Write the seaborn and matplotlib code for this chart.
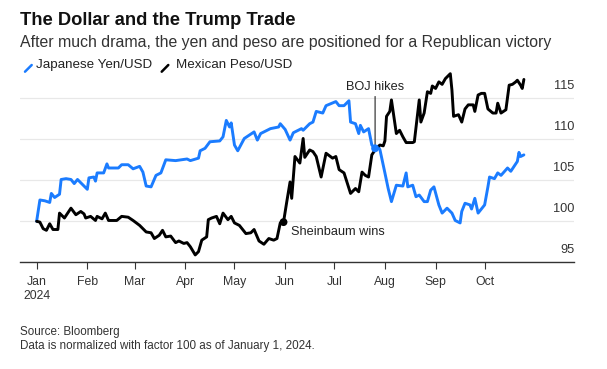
import matplotlib
matplotlib.use("Agg")
import matplotlib.pyplot as plt
import matplotlib.lines as mlines
import pandas as pd
import seaborn as sns

# ----------------------------
# Data (normalized, Jan 1 2024 = 100)
# ----------------------------
yen_dates = [
    "01-01", "01-03", "01-06", "01-09", "01-10", "01-12", "01-15", "01-16", "01-19", "01-22",
    "01-24", "01-26", "01-29", "02-01", "02-02", "02-05", "02-06", "02-07", "02-11", "02-13",
    "02-14", "02-20", "02-22", "02-26", "02-29", "03-04", "03-06", "03-08", "03-11", "03-14",
    "03-17", "03-20", "03-26", "04-02", "04-04", "04-09", "04-10", "04-13", "04-16", "04-22",
    "04-24", "04-26", "04-28", "04-29", "05-01", "05-03", "05-07", "05-13", "05-15", "05-17",
    "05-22", "05-23", "05-28", "05-29", "06-01", "06-04", "06-06", "06-11", "06-12", "06-16",
    "06-18", "06-20", "06-24", "06-26", "07-02", "07-04", "07-07", "07-10", "07-11", "07-14",
    "07-16", "07-17", "07-19", "07-22", "07-24", "07-26", "07-28", "07-29", "08-01", "08-03",
    "08-05", "08-08", "08-12", "08-14", "08-15", "08-18", "08-20", "08-22", "08-25", "08-27",
    "08-29", "08-31", "09-03", "09-05", "09-08", "09-11", "09-13", "09-16", "09-17", "09-19",
    "09-22", "09-23", "09-25", "09-27", "10-01", "10-03", "10-04", "10-07", "10-09", "10-11",
    "10-15", "10-17", "10-19", "10-21", "10-22", "10-23", "10-25",
]
yen_values = [
    100.0, 102.6, 102.5, 102.3, 103.4, 102.9, 103.3, 105.1, 105.2, 105.1,
    104.6, 105.1, 104.5, 103.9, 105.3, 105.4, 104.9, 105.9, 105.9, 107.0,
    106.5, 106.5, 106.9, 106.9, 106.4, 106.7, 106.0, 104.3, 104.2, 105.6,
    105.9, 107.5, 107.4, 107.6, 107.4, 107.7, 108.6, 108.9, 109.7, 109.8,
    110.3, 112.3, 111.5, 112.0, 109.3, 108.6, 110.1, 110.9, 109.9, 110.7,
    111.2, 111.3, 111.5, 111.9, 111.2, 109.9, 110.8, 111.3, 111.1, 111.9,
    112.1, 113.4, 113.2, 114.1, 114.6, 114.1, 114.1, 114.7, 112.1, 111.9,
    110.7, 111.7, 110.9, 111.3, 109.3, 108.9, 109.1, 108.7, 105.9, 104.0,
    102.4, 104.4, 104.3, 105.9, 104.2, 104.4, 103.0, 103.2, 102.4, 102.4,
    103.8, 104.2, 102.0, 101.0, 101.6, 101.0, 100.1, 99.8, 101.2, 102.2,
    102.0, 101.5, 102.8, 101.0, 102.0, 104.2, 105.4, 105.2, 105.9, 105.6,
    106.5, 106.1, 106.7, 107.3, 108.4, 107.9, 108.1,
]

mxn_dates = [
    "01-01", "01-03", "01-05", "01-07", "01-09", "01-11", "01-14", "01-15", "01-18", "01-22",
    "01-25", "01-28", "01-30", "01-31", "02-03", "02-06", "02-07", "02-10", "02-12", "02-14",
    "02-19", "02-22", "02-26", "02-29", "03-04", "03-08", "03-11", "03-13", "03-16", "03-18",
    "03-20", "03-23", "03-26", "03-28", "03-31", "04-02", "04-04", "04-07", "04-09", "04-11",
    "04-14", "04-15", "04-17", "04-20", "04-22", "04-24", "04-27", "04-29", "05-01", "05-04",
    "05-08", "05-11", "05-13", "05-16", "05-19", "05-22", "05-25", "05-27", "05-29", "05-31",
    "06-02", "06-04", "06-05", "06-07", "06-10", "06-12", "06-13", "06-16", "06-18", "06-20",
    "06-23", "06-26", "06-30", "07-02", "07-04", "07-07", "07-11", "07-14", "07-16", "07-18",
    "07-20", "07-22", "07-24", "07-27", "07-29", "07-31", "08-01", "08-02", "08-04", "08-05",
    "08-08", "08-10", "08-12", "08-14", "08-18", "08-19", "08-22", "08-23", "08-25", "08-27",
    "08-29", "08-30", "09-01", "09-03", "09-05", "09-07", "09-10", "09-11", "09-12", "09-15",
    "09-17", "09-19", "09-21", "09-24", "09-25", "09-27", "09-29", "10-01", "10-03", "10-06",
    "10-08", "10-09", "10-11", "10-14", "10-16", "10-18", "10-20", "10-21", "10-23", "10-24",
    "10-25",
]
mxn_values = [
    100.0, 99.9, 99.1, 98.9, 99.7, 99.0, 99.0, 101.0, 100.4, 101.6,
    100.8, 101.2, 100.9, 100.4, 100.6, 100.1, 100.6, 100.3, 101.0, 100.1,
    100.1, 100.6, 100.5, 100.1, 99.5, 98.7, 98.6, 97.9, 98.3, 98.9,
    98.1, 98.2, 97.4, 97.6, 97.3, 97.4, 96.9, 95.9, 96.3, 97.7,
    98.1, 100.2, 100.4, 100.6, 99.7, 101.0, 100.2, 100.6, 99.8, 99.5,
    98.5, 98.6, 99.0, 97.6, 97.2, 97.9, 97.7, 97.9, 99.8, 99.9,
    102.4, 104.8, 102.8, 107.9, 107.1, 110.1, 107.8, 108.7, 108.5, 107.9,
    105.4, 108.3, 107.7, 107.9, 106.3, 105.9, 103.4, 104.0, 103.6, 106.0,
    105.6, 105.4, 108.1, 109.0, 109.3, 109.2, 109.8, 112.8, 113.4, 114.8,
    110.7, 111.1, 110.3, 109.6, 109.6, 109.7, 114.8, 112.1, 113.2, 115.8,
    115.6, 116.5, 116.2, 117.0, 116.7, 117.4, 118.0, 116.0, 112.8, 113.0,
    112.1, 113.7, 114.2, 114.2, 113.4, 115.4, 115.6, 115.6, 113.7, 113.2,
    113.2, 114.4, 113.2, 113.6, 116.6, 116.7, 117.0, 117.2, 116.6, 116.2,
    117.3,
]

series_names = ["Japanese Yen/USD", "Mexican Peso/USD"]
series_colors = ["#1b7cff", "#000000"]

month_ticks = ["01-01", "02-01", "03-01", "04-01", "05-01", "06-01",
               "07-01", "08-01", "09-01", "10-01"]
month_labels = ["Jan\n2024", "Feb", "Mar", "Apr", "May", "Jun",
                "Jul", "Aug", "Sep", "Oct"]
y_ticks = [95, 100, 105, 110, 115]

# events: (label, series, date)
event_labels = ["Sheinbaum wins", "BOJ hikes"]
event_series = ["Mexican Peso/USD", "Japanese Yen/USD"]
event_dates = ["05-31", "07-26"]

# ----------------------------
# Build tidy frame
# ----------------------------
def to_dt(md):
    return pd.to_datetime(["2024-" + d for d in md])

df = pd.concat([
    pd.DataFrame({"date": to_dt(yen_dates), "value": yen_values, "series": series_names[0]}),
    pd.DataFrame({"date": to_dt(mxn_dates), "value": mxn_values, "series": series_names[1]}),
], ignore_index=True)

sns.set_style("white")
plt.rcParams["font.family"] = ["Liberation Sans", "DejaVu Sans"]

fig = plt.figure(figsize=(6.07, 3.69), dpi=100)
W, H = 607, 369
ax = fig.add_axes([20 / W, 1 - 262.3 / H, (574.3 - 20) / W, (262.3 - 70) / H])

sns.lineplot(data=df, x="date", y="value", hue="series", hue_order=series_names,
             palette=series_colors, linewidth=2.1, estimator=None, legend=False, ax=ax)

ax.set_xlim(pd.Timestamp("2023-12-21 20:00"), pd.Timestamp("2024-11-24 20:00"))
ax.set_ylim(95, 118.45)

# y grid with labels sitting above the lines, on the right
ax.set_yticks(y_ticks)
ax.tick_params(axis="y", left=False, labelleft=False)
ax.grid(axis="y", color="#e8e8e8", linewidth=0.9)
ax.grid(axis="x", visible=False)
for v in y_ticks:
    ax.annotate(str(v), xy=(1, v), xycoords=("axes fraction", "data"),
                xytext=(0, 9.1), textcoords="offset points",
                ha="right", va="center", fontsize=9.2, color="#333333")

ax.set_xticks(to_dt(month_ticks))
ax.set_xticklabels(month_labels, fontsize=8.8, color="#333333", linespacing=1.25)
ax.tick_params(axis="x", bottom=True, direction="out", length=5, width=0.8,
               color="#333333", pad=5)
ax.set_xlabel("")
ax.set_ylabel("")
for s in ["top", "left", "right"]:
    ax.spines[s].set_visible(False)
ax.spines["bottom"].set_color("#333333")
ax.spines["bottom"].set_linewidth(1.0)

# event markers
ev_vals = []
for name, date in zip(event_series, event_dates):
    sub = df[(df.series == name) & (df.date == pd.Timestamp("2024-" + date))]
    ev_vals.append(float(sub.value.iloc[0]))
ev = pd.DataFrame({"date": to_dt(event_dates), "value": ev_vals, "series": event_series})
sns.scatterplot(data=ev, x="date", y="value", hue="series", hue_order=series_names,
                palette=series_colors, s=32, edgecolor="none", legend=False, ax=ax, zorder=5)
ax.set_xlabel("")
ax.set_ylabel("")

ax.annotate(event_labels[0], xy=(ev.date[0], ev.value[0]), xytext=(5.5, -7),
            textcoords="offset points", ha="left", va="center", fontsize=9.2, color="#222222")
ax.annotate(event_labels[1], xy=(ev.date[1], ev.value[1]), xytext=(0, 44),
            textcoords="offset points", ha="center", va="center", fontsize=9.2, color="#222222",
            arrowprops=dict(arrowstyle="-", color="#222222", lw=0.8, shrinkA=0, shrinkB=0))

# titles
fig.text(20 / W, 1 - 25 / H, "The Dollar and the Trump Trade", fontsize=13.2,
         fontweight="bold", color="#111111", va="baseline", ha="left")
fig.text(20 / W, 1 - 46.7 / H,
         "After much drama, the yen and peso are positioned for a Republican victory",
         fontsize=11.4, color="#333333", va="baseline", ha="left")

# legend: slash glyphs + labels
for (x0, x1), name, col, tx in zip([(25, 31.7), (161.7, 168.3)], series_names,
                                   series_colors, [36, 176]):
    fig.add_artist(mlines.Line2D([x0 / W, x1 / W], [1 - 71.7 / H, 1 - 65 / H],
                                 color=col, lw=1.8, transform=fig.transFigure))
    fig.text(tx / W, 1 - 68.3 / H, name, fontsize=9.6, color="#222222",
             va="baseline", ha="left")

# footer
fig.text(20 / W, 1 - 335 / H, "Source: Bloomberg", fontsize=8.4, color="#333333",
         va="baseline", ha="left")
fig.text(20 / W, 1 - 348.5 / H, "Data is normalized with factor 100 as of January 1, 2024.",
         fontsize=8.4, color="#333333", va="baseline", ha="left")

fig.savefig("out.png", dpi=100)
